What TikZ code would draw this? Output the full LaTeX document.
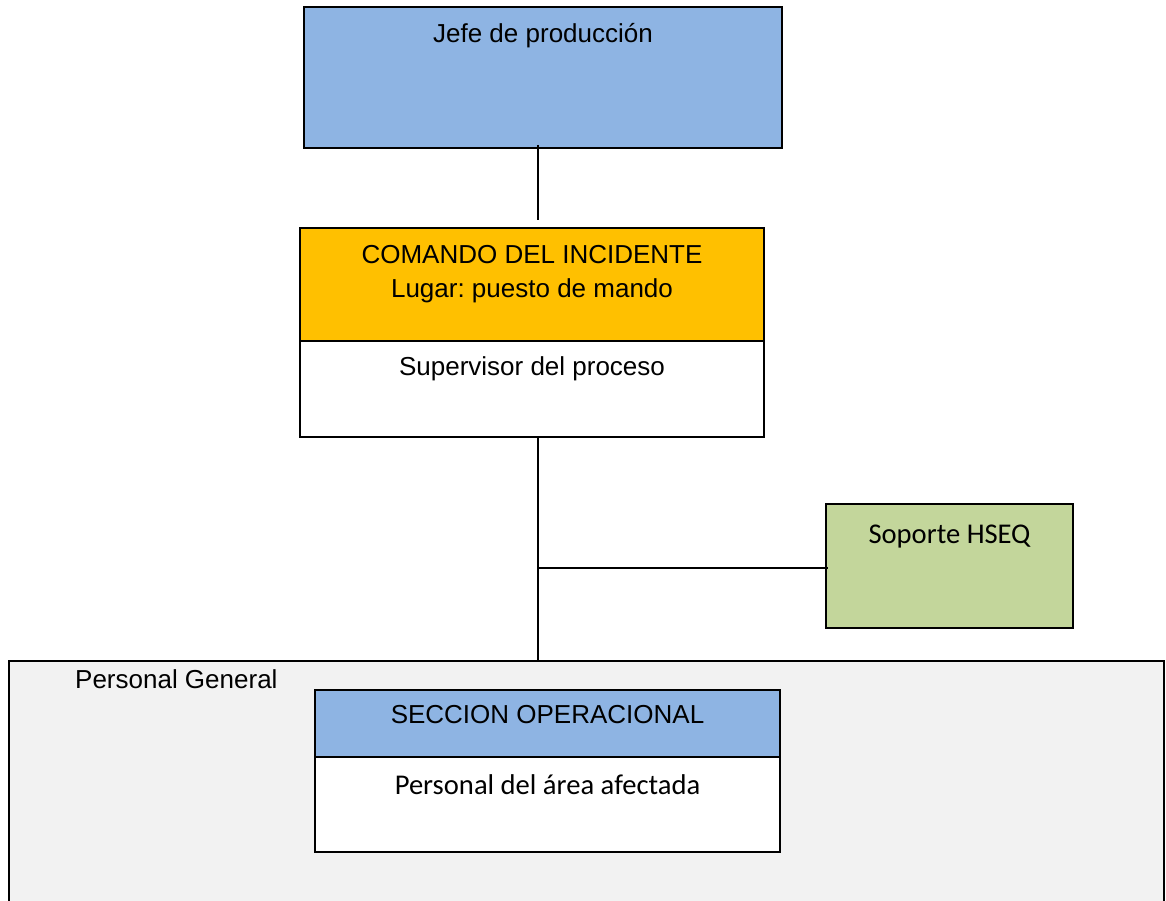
\documentclass[tikz,border=0pt]{standalone}
\usepackage{fontspec}
\setmainfont{Liberation Sans}
\newfontfamily\calibrifont{Carlito}
\frenchspacing
\definecolor{headblue}{HTML}{8EB4E3}
\definecolor{cmdorange}{HTML}{FFC000}
\definecolor{hseqgreen}{HTML}{C3D69B}
\definecolor{panelgray}{HTML}{F2F2F2}
\tikzset{
  box/.style={draw=black, line width=2pt, rectangle, inner sep=0pt, outer sep=0pt, anchor=north west},
  lbl/.style={inner sep=0pt, anchor=base, font=\fontsize{26}{31}\selectfont},
  lblc/.style={inner sep=0pt, anchor=base, font=\calibrifont\fontsize{28.6}{34}\selectfont},
  conn/.style={draw=black, line width=1.5pt},
}
\begin{document}
\begin{tikzpicture}[x=1pt, y=-1pt]
\useasboundingbox (0,0) rectangle (1166,901);
\clip (0,0) rectangle (1166,901);

% general staff panel (runs off the bottom edge)
\node[box, fill=panelgray, minimum width=1155pt, minimum height=260pt] (pg) at (9,661) {};
\node[inner sep=0pt, anchor=base west, font=\fontsize{26}{31}\selectfont] (pgtxt) at (75,688) {Personal General};

% head of production
\node[box, fill=headblue, minimum width=478pt, minimum height=141pt] (jefe) at (304,7) {};
\node[lbl] (jefetxt) at (543,43) {Jefe de producción};

% incident command
\node[box, fill=cmdorange, minimum width=464pt, minimum height=113pt] (comando) at (300,228) {};
\node[box, fill=white, minimum width=464pt, minimum height=96pt] (sup) at (300,341) {};
\node[lbl] (cmdtxt) at (532,263) {COMANDO DEL INCIDENTE};
\node[lbl] (lugartxt) at (532,297) {Lugar: puesto de mando};
\node[lbl] (suptxt) at (532,375) {Supervisor del proceso};

% HSEQ support
\node[box, fill=hseqgreen, minimum width=247pt, minimum height=124pt] (hseq) at (826,504) {};
\node[lblc] (hseqtxt) at (949.5,543) {Soporte HSEQ};

% operations section
\node[box, fill=headblue, minimum width=465pt, minimum height=67pt] (secc) at (315,690) {};
\node[box, fill=white, minimum width=465pt, minimum height=95pt] (area) at (315,757) {};
\node[lbl] (secctxt) at (547.5,723) {SECCION OPERACIONAL};
\node[lblc] (areatxt) at (547.5,794) {Personal del área afectada};

% connectors
\coordinate (spine) at (538,0);
\coordinate (junction) at (538,568);
\draw[conn] ([yshift=3pt]jefe.south -| spine) -- ([yshift=8pt]comando.north -| spine);
\draw[conn] (sup.south -| spine) -- (pg.north -| spine);
\draw[conn] (junction) -- ([xshift=2pt]junction -| hseq.west);
\end{tikzpicture}
\end{document}
